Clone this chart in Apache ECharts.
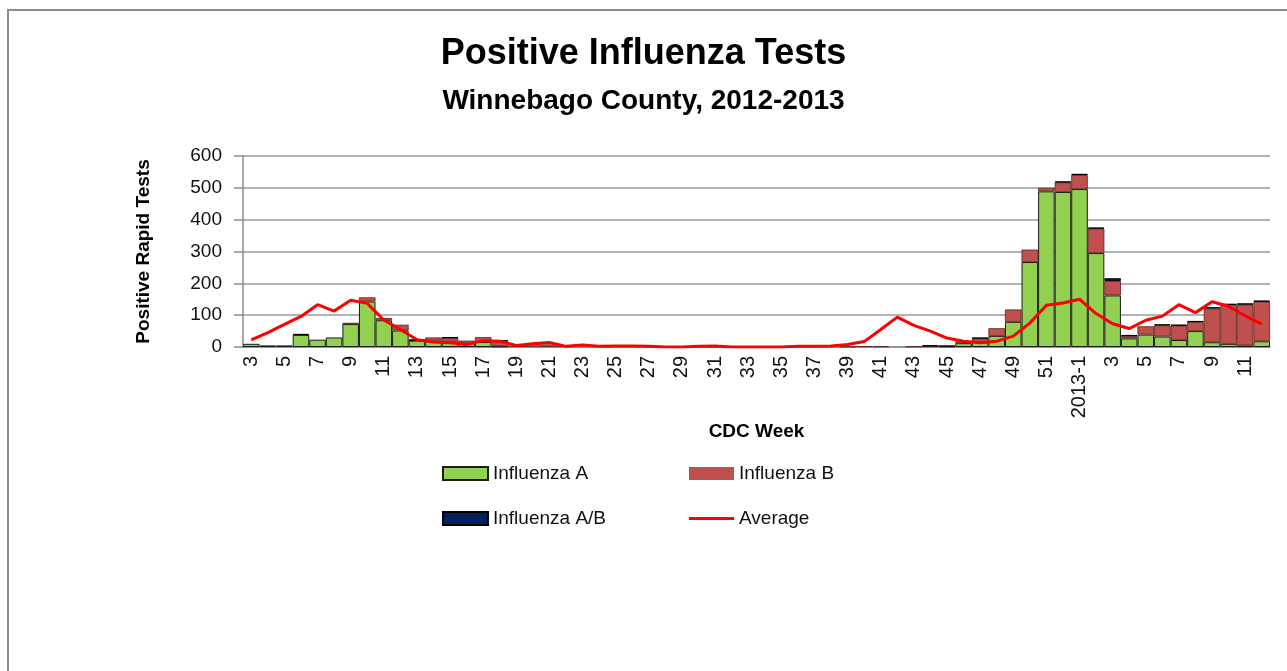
<!DOCTYPE html>
<html>
<head>
    <meta charset="utf-8">
    <title>Positive Influenza Tests</title>
    <script src="https://cdn.jsdelivr.net/npm/echarts@6/dist/echarts.min.js"></script>
    <style>
        html, body { margin: 0; padding: 0; background: #fff; }
        #chart1 { width: 1287px; height: 671px; }
    </style>
</head>
<body>
<div id="chart1"></div>
<script>
    // CDC weeks: 2012 weeks 3..52, then 2013-1..12
    var weeks = ['3','4','5','6','7','8','9','10','11','12',
        '13','14','15','16','17','18','19','20','21','22',
        '23','24','25','26','27','28','29','30','31','32',
        '33','34','35','36','37','38','39','40','41','42',
        '43','44','45','46','47','48','49','50','51','52',
        '2013-1','2','3','4','5','6','7','8','9','10','11','12'];

    var fluA = [10,5,5,38,23,30,72,143,84,52,
        20,20,17,12,16,2,0,0,0,0,
        0,0,0,0,0,0,0,0,0,0,
        0,0,0,0,0,0,0,0,0,0,
        0,0,0,12,15,35,79,267,489,487,
        496,295,162,27,39,33,22,50,15,10,5,18];

    var fluB = [0,0,0,0,0,0,4,13,7,18,
        1,10,11,8,15,17,5,10,8,3,
        0,0,0,0,0,0,0,0,0,0,
        0,0,0,0,0,0,1,3,2,0,
        2,3,2,6,12,24,39,39,11,30,
        44,77,45,7,26,35,45,28,106,122,128,124];

    var fluAB = [0,0,0,3,0,0,0,0,0,0,
        2,0,3,0,0,1,0,0,0,0,
        0,0,0,0,0,0,0,0,0,0,
        0,0,0,0,0,0,0,0,0,0,
        0,2,2,0,2,0,0,0,0,3,
        4,3,9,4,0,3,3,4,4,4,4,4];

    var average = [22,45,71,96,133,113,147,137,85,55,
        23,16,13,8,20,18,5,10,14,2,
        6,2,3,3,2,0,0,2,3,0,
        0,0,0,2,2,3,8,17,55,94,
        68,50,28,18,13,18,34,75,131,138,
        150,105,73,58,84,97,133,108,142,128,98,72];

    var yTicks = { min: 0, max: 600, step: 100 };

    var bodyFont = 'Liberation Sans, Arial, sans-serif';

    // 0 -> null so empty segments draw no border line
    function noZero(arr) {
        return arr.map(function (v) { return v ? v : null; });
    }

    // thin red stroke for the Average legend key (corner specks keep the 45x13 box)
    var lineIcon = 'path://M0,0H0.01V0.01H0Z M0,5H45V8H0Z M44.99,12.99H45V13H44.99Z';

    var legendBase = {
        orient: 'vertical',
        top: 464,
        padding: 0,
        itemWidth: 45,
        itemHeight: 13,
        itemGap: 26,
        textStyle: { fontFamily: bodyFont, fontSize: 19, color: '#111' }
    };

    var myChart1 = echarts.init(document.getElementById('chart1'));

    myChart1.setOption({
        backgroundColor: '#fff',
        animation: false,
        graphic: [{
            type: 'rect',
            shape: { x: 8, y: 10, width: 1300, height: 700 },
            style: { fill: 'none', stroke: '#8c8c8c', lineWidth: 2 },
            silent: true
        }],
        title: [{
            text: 'Positive Influenza Tests',
            left: 'center',
            top: 31,
            textStyle: { fontFamily: bodyFont, fontSize: 36, fontWeight: 'bold', color: '#000' }
        }, {
            text: 'Winnebago County, 2012-2013',
            left: 'center',
            top: 82,
            textStyle: { fontFamily: bodyFont, fontSize: 28, fontWeight: 'bold', color: '#000' }
        }],
        legend: [
            echarts.util.extend({
                left: 442,
                data: [
                    { name: 'Influenza A', icon: 'rect' },
                    { name: 'Influenza A/B', icon: 'rect' }
                ]
            }, legendBase),
            echarts.util.extend({
                left: 689,
                data: [
                    { name: 'Influenza B', icon: 'rect', itemStyle: { borderWidth: 0 } },
                    { name: 'Average', icon: lineIcon, itemStyle: { color: '#ff0000', borderWidth: 0 } }
                ]
            }, legendBase)
        ],
        grid: { left: 243, right: 17, top: 156, bottom: 324 },
        xAxis: {
            type: 'category',
            data: weeks,
            name: 'CDC Week',
            nameLocation: 'middle',
            nameGap: 63,
            nameTextStyle: { fontFamily: bodyFont, fontSize: 19, fontWeight: 'bold', color: '#000' },
            axisLine: { lineStyle: { color: '#8c8c8c', width: 1.5 } },
            axisTick: { interval: 0, length: 6, lineStyle: { color: '#8c8c8c', width: 1.5 } },
            axisLabel: { interval: 1, rotate: 90, margin: 9, fontFamily: bodyFont, fontSize: 20, color: '#111' }
        },
        yAxis: {
            type: 'value',
            min: yTicks.min,
            max: yTicks.max,
            interval: yTicks.step,
            name: 'Positive Rapid Tests',
            nameLocation: 'middle',
            nameGap: 90,
            nameTextStyle: { fontFamily: bodyFont, fontSize: 19, fontWeight: 'bold', color: '#000' },
            axisLine: { show: true, lineStyle: { color: '#8c8c8c', width: 1.5 } },
            axisTick: { show: true, length: 9, lineStyle: { color: '#8c8c8c', width: 1.5 } },
            axisLabel: { margin: 21, fontFamily: bodyFont, fontSize: 19, color: '#111' },
            splitLine: { lineStyle: { color: '#9a9a9a', width: 1.5 } }
        },
        series: [{
            name: 'Influenza A',
            type: 'bar',
            stack: 'flu',
            barCategoryGap: '0%',
            data: noZero(fluA),
            itemStyle: { color: '#92d050', borderColor: '#1a1a1a', borderWidth: 1 }
        }, {
            name: 'Influenza B',
            type: 'bar',
            stack: 'flu',
            data: noZero(fluB),
            itemStyle: { color: '#c0504d', borderColor: '#5a2524', borderWidth: 0.8 }
        }, {
            name: 'Influenza A/B',
            type: 'bar',
            stack: 'flu',
            data: noZero(fluAB),
            itemStyle: { color: '#002060', borderColor: '#000', borderWidth: 1 }
        }, {
            name: 'Average',
            type: 'line',
            data: average,
            symbol: 'none',
            z: 10,
            itemStyle: { color: '#ff0000' },
            lineStyle: { color: '#ff0000', width: 3 }
        }]
    });
</script>
</body>
</html>
